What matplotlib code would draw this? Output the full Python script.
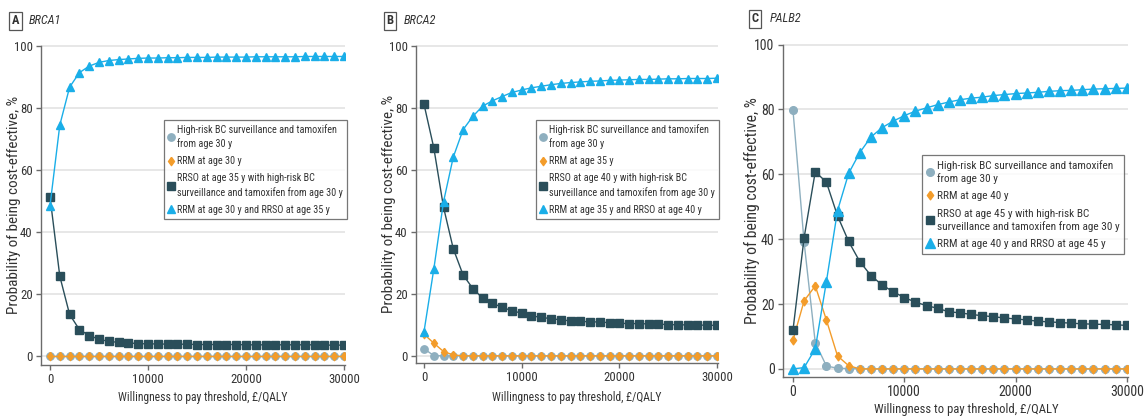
import os
import matplotlib
matplotlib.use("Agg")
import matplotlib.pyplot as plt
from matplotlib import font_manager
from matplotlib.font_manager import FontProperties
from matplotlib.textpath import TextPath

# ---------------- data ----------------
wtp = list(range(0, 30001, 1000))

# Panel A: BRCA1
a_circle = [0.0] * 31
a_diamond = [0.0] * 31
a_square = [51.3, 25.7, 13.4, 8.5, 6.6, 5.4, 4.7, 4.4, 4.2, 4.0, 3.9, 3.9, 3.8, 3.8, 3.8,
            3.7, 3.7, 3.7, 3.7, 3.7, 3.6, 3.6, 3.6, 3.6, 3.6, 3.6, 3.6, 3.6, 3.5, 3.5, 3.5]
a_triangle = [48.4, 74.4, 86.6, 91.3, 93.4, 94.6, 95.2, 95.5, 95.7, 95.9, 96.0, 96.0, 96.1,
              96.1, 96.2, 96.2, 96.2, 96.3, 96.3, 96.3, 96.3, 96.4, 96.4, 96.4, 96.4, 96.4,
              96.5, 96.5, 96.5, 96.5, 96.5]

# Panel B: BRCA2
b_circle = [2.3, 0.1] + [0.0] * 29
b_diamond = [7.0, 4.1, 1.4, 0.3] + [0.0] * 27
b_square = [81.1, 67.1, 47.9, 34.5, 26.1, 21.7, 18.6, 16.9, 15.7, 14.5, 13.8, 12.9, 12.4,
            12.0, 11.6, 11.3, 11.1, 11.0, 10.9, 10.7, 10.5, 10.4, 10.4, 10.3, 10.2, 10.1,
            10.0, 10.0, 9.9, 9.9, 9.8]
b_triangle = [7.8, 27.9, 49.7, 64.1, 72.9, 77.2, 80.5, 82.2, 83.6, 84.9, 85.7, 86.4, 86.9,
              87.4, 87.8, 88.1, 88.3, 88.5, 88.6, 88.8, 88.9, 89.0, 89.1, 89.1, 89.2, 89.3,
              89.3, 89.4, 89.4, 89.4, 89.5]

# Panel C: PALB2
c_circle = [79.7, 39.0, 8.1, 0.9, 0.2, 0.1] + [0.0] * 25
c_diamond = [8.9, 21.0, 25.6, 15.1, 4.0, 1.0] + [0.0] * 25
c_square = [12.0, 40.5, 60.8, 57.6, 47.2, 39.3, 33.1, 28.8, 25.9, 23.8, 22.0, 20.6, 19.5,
            18.7, 17.6, 17.3, 16.8, 16.4, 16.1, 15.7, 15.4, 15.1, 14.7, 14.5, 14.3, 14.1,
            13.9, 13.8, 13.7, 13.6, 13.4]
c_triangle = [0.0, 0.4, 6.2, 26.9, 48.8, 60.3, 66.7, 71.5, 74.4, 76.4, 78.1, 79.5, 80.5,
              81.5, 82.3, 83.0, 83.5, 83.8, 84.3, 84.6, 84.9, 85.1, 85.3, 85.6, 85.8, 85.9,
              86.1, 86.3, 86.4, 86.5, 86.6]

panel_letters = ["A", "B", "C"]
gene_names = ["BRCA1", "BRCA2", "PALB2"]
legend_labels = [
    ["High-risk BC surveillance and tamoxifen\nfrom age 30 y", "RRM at age 30 y",
     "RRSO at age 35 y with high-risk BC\nsurveillance and tamoxifen from age 30 y",
     "RRM at age 30 y and RRSO at age 35 y"],
    ["High-risk BC surveillance and tamoxifen\nfrom age 30 y", "RRM at age 35 y",
     "RRSO at age 40 y with high-risk BC\nsurveillance and tamoxifen from age 30 y",
     "RRM at age 35 y and RRSO at age 40 y"],
    ["High-risk BC surveillance and tamoxifen\nfrom age 30 y", "RRM at age 40 y",
     "RRSO at age 45 y with high-risk BC\nsurveillance and tamoxifen from age 30 y",
     "RRM at age 40 y and RRSO at age 45 y"],
]
xticks = [0, 10000, 20000, 30000]
yticks = [0, 20, 40, 60, 80, 100]
xlabel_text = "Willingness to pay threshold, £/QALY"
ylabel_text = "Probability of being cost-effective, %"


# ---------------- fonts: find a condensed sans if one exists ----------------
def _w(f):
    w = f.weight
    if isinstance(w, str):
        w = font_manager.weight_dict.get(w.lower(), 400)
    return int(w)


def find_font(style="normal", bold=False):
    prefs = ["robotocondensed", "liberationsansnarrow", "opensanscondensed",
             "dejavusanscondensed", "notosanscondensed", "condensed", "narrow"]
    best = None
    for f in font_manager.fontManager.ttflist:
        fn = os.path.basename(f.fname).lower().replace("-", "").replace("_", "")
        nm = f.name.lower().replace(" ", "")
        key = nm + " " + fn
        if "mono" in key or "serif" in key.replace("sansserif", ""):
            continue
        if not any(p in key for p in prefs):
            continue
        if "extracondensed" in key or "semicondensed" in key:
            continue
        st = "italic" if f.style in ("italic", "oblique") else "normal"
        if st != style:
            continue
        w = _w(f)
        if bold and w < 600:
            continue
        if not bold and not (350 <= w <= 450):
            continue
        rank = next(i for i, p in enumerate(prefs) if p in key)
        if best is None or rank < best[0]:
            best = (rank, f.fname)
    return best[1] if best else None


def fallback(style="normal", bold=False):
    fp = FontProperties(family=["Liberation Sans", "DejaVu Sans"], style=style,
                        weight="bold" if bold else "normal")
    return font_manager.findfont(fp)


F_REG = find_font("normal", False) or fallback("normal", False)
F_IT = find_font("italic", False) or fallback("italic", False)
F_BD = find_font("normal", True) or fallback("normal", True)


def fit(fname, text, target_px):
    """font size (pt) such that text is target_px wide at 100 dpi"""
    tp = TextPath((0, 0), text, prop=FontProperties(fname=fname, size=10))
    wpt = tp.get_extents().width
    return 10.0 * target_px / (wpt * 100.0 / 72.0)


S_LEG = fit(F_REG, "High-risk BC surveillance and tamoxifen", 157)
S_TICK = fit(F_REG, "30000", 27.5) * 1.1
S_XLAB = fit(F_REG, xlabel_text, 156) * 1.08
S_YLAB = fit(F_REG, ylabel_text, 205) * 1.05
S_GENE = fit(F_IT, "BRCA1", 27) * 1.15
S_LET = 9.0

# ---------------- style ----------------
C_CIRC = "#8eafbf"
C_DIAM = "#f39c2a"
C_SQ = "#2a4e5a"
C_TRI = "#1aaee8"
TXT = "#333333"
SPINE = "#6b6b6b"
DIAMOND = [(0, 1), (0.72, 0), (0, -1), (-0.72, 0), (0, 1)]

fig = plt.figure(figsize=(11.46, 4.17), dpi=100)
W, H = 1146, 417

boxes = [  # left, right, top, bottom in px
    (41, 345, 45, 365),
    (416, 718, 45, 363),
    (783, 1128, 44, 377),
]
hscale = [1.0, 1.0, 1.09]   # horizontal text stretch of panel C
legscale = [1.0, 1.0, 1.12]
vscale = [1.0, 1.0, 1.04]
xlims = [(-918, 30100), (-819, 30100), (-898, 30100)]
ylims = [(-2.9, 100.2), (-2.3, 100.2), (-2.5, 100.2)]
legend_boxes = [(164, 120), (536, 120), (922, 155)]  # left, top px
ylabel_x = [14, 389, 752]
xlabel_xy = [(203, 397), (577, 397), (966, 410)]
letter_x = [15.5, 390, 755]
gene_x = [29, 404, 770]
head_y = [21, 21, 18.5]

panels = [
    (a_circle, a_diamond, a_square, a_triangle),
    (b_circle, b_diamond, b_square, b_triangle),
    (c_circle, c_diamond, c_square, c_triangle),
]

for i, (l, r, t, b) in enumerate(boxes):
    sc = hscale[i]
    fp_leg = FontProperties(fname=F_REG, size=S_LEG * legscale[i])
    fp_tick = FontProperties(fname=F_REG, size=S_TICK * sc)
    fp_xlab = FontProperties(fname=F_REG, size=S_XLAB * sc)
    fp_ylab = FontProperties(fname=F_REG, size=S_YLAB * vscale[i])
    fp_gene = FontProperties(fname=F_IT, size=S_GENE)
    fp_let = FontProperties(fname=F_BD, size=S_LET)

    ax = fig.add_axes([l / W, 1 - b / H, (r - l) / W, (b - t) / H])
    circ, diam, sq, tri = panels[i]
    ms = vscale[i]
    h1, = ax.plot(wtp, circ, color=C_CIRC, marker="o", ms=5.3 * ms, lw=1.0, mec=C_CIRC, zorder=3)
    h2, = ax.plot(wtp, diam, color=C_DIAM, marker=DIAMOND, ms=6.0 * ms, lw=1.0, mec=C_DIAM, zorder=4)
    h3, = ax.plot(wtp, sq, color=C_SQ, marker="s", ms=5.3 * ms, lw=1.0, mec=C_SQ, zorder=5)
    h4, = ax.plot(wtp, tri, color=C_TRI, marker="^", ms=6.3 * ms, lw=1.0, mec=C_TRI, zorder=6)

    ax.set_xlim(*xlims[i])
    ax.set_ylim(*ylims[i])
    ax.set_xticks(xticks)
    ax.set_xticklabels([str(v) for v in xticks])
    ax.set_yticks(yticks)
    ax.set_yticklabels([str(v) for v in yticks])
    ax.yaxis.grid(True, color="#e3e3e3", lw=1.2, zorder=0)
    ax.set_axisbelow(True)
    for s in ["top", "right"]:
        ax.spines[s].set_visible(False)
    for s in ["left", "bottom"]:
        ax.spines[s].set_color(SPINE)
        ax.spines[s].set_linewidth(1.0)
    ax.spines["left"].set_bounds(ylims[i][0], 100)
    ax.tick_params(axis="both", colors=SPINE, labelcolor=TXT, length=3.5, width=1, pad=2.5)
    for lab in ax.get_xticklabels() + ax.get_yticklabels():
        lab.set_fontproperties(fp_tick)
        lab.set_color(TXT)

    ax.set_xlabel(xlabel_text, fontproperties=fp_xlab, color=TXT)
    ax.xaxis.label.set_va("center")
    xlx, xly = xlabel_xy[i]
    ax.xaxis.set_label_coords((xlx - l) / (r - l), (b - xly) / (b - t))
    ax.set_ylabel(ylabel_text, fontproperties=fp_ylab, color=TXT)
    ax.yaxis.label.set_va("center")
    ax.yaxis.set_label_coords((ylabel_x[i] - l) / (r - l), 0.5)

    font_px = S_LEG * legscale[i] * 100.0 / 72.0
    leg_l, leg_t = legend_boxes[i]
    leg = ax.legend([h1, h2, h3, h4], legend_labels[i],
                    loc="upper left",
                    bbox_to_anchor=(leg_l / W, 1 - leg_t / H),
                    bbox_transform=fig.transFigure,
                    prop=fp_leg, frameon=True, fancybox=False, edgecolor="#555555",
                    handlelength=0.6, handletextpad=0.3,
                    labelspacing=7.0 * vscale[i] / font_px,
                    borderpad=0.42, borderaxespad=0, markerscale=1.0)
    leg.get_frame().set_linewidth(0.9)
    for line in leg.get_lines():
        line.set_linestyle("none")
    for txt in leg.get_texts():
        txt.set_color(TXT)
        txt.set_linespacing(14.0 * vscale[i] / font_px)
    leg.set_zorder(10)

    # panel label box + gene name
    fig.text(letter_x[i] / W, 1 - head_y[i] / H, panel_letters[i], fontproperties=fp_let,
             color=TXT, ha="center", va="center",
             bbox=dict(boxstyle="square,pad=0.2", fc="white", ec="#555555", lw=0.9))
    fig.text(gene_x[i] / W, 1 - head_y[i] / H, gene_names[i], fontproperties=fp_gene,
             color=TXT, ha="left", va="center")

fig.savefig("out.png", dpi=100, facecolor="white")
